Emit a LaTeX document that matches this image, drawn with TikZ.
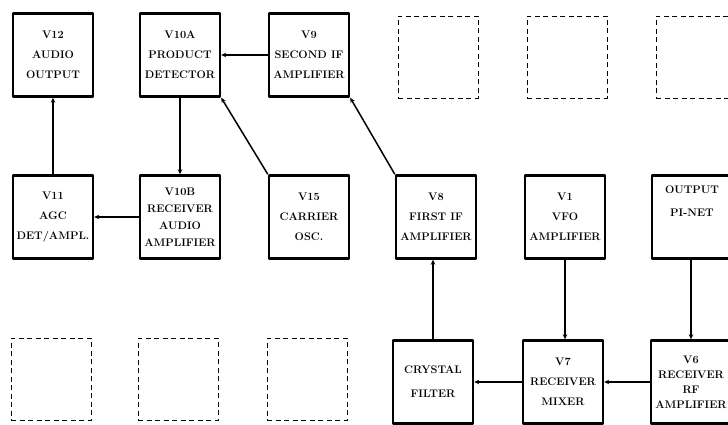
\documentclass[tikz,border=0pt]{standalone}
\usetikzlibrary{arrows.meta}
\begin{document}
\begin{tikzpicture}[x=1pt,y=-1pt,>={Stealth[length=5pt,width=4.5pt]},line join=round,
	font=\fontsize{11}{20}\selectfont\bfseries,
	blk/.style={draw,line width=2.4pt,minimum width=80pt,minimum height=83pt,align=center,inner sep=0pt},
	spare/.style={draw,dashed,line width=0.9pt,dash pattern=on 5pt off 3.5pt,minimum width=80pt,minimum height=82pt},
	sig/.style={->,line width=1.5pt}]
	\def\ca{53} \def\cb{180} \def\cc{309} \def\cd{436} \def\ce{565} \def\cf{692} % columns
	\def\ra{55} \def\rb{217} \def\rc{382} % rows
	\useasboundingbox (0,0) rectangle (728,425);
	\clip (0,0) rectangle (728,425);
	% top row
	\node[blk] (v12) at (\ca,\ra) {V12\\AUDIO\\OUTPUT};
	\node[blk] (v10a) at (\cb,\ra) {V10A\\PRODUCT\\DETECTOR};
	\node[blk] (v9) at (\cc,\ra) {V9\\SECOND IF\\AMPLIFIER};
	\foreach \i/\xx in {1/438,2/567,3/696} \node[spare] (sa\i) at (\xx,57) {};
	% middle row
	\node[blk] (v11) at (\ca,\rb) {V11\\AGC\\DET/AMPL.};
	\node[blk,font=\fontsize{11}{17}\selectfont\bfseries] (v10b) at (\cb,\rb) {V10B\\RECEIVER\\AUDIO\\AMPLIFIER};
	\node[blk] (v15) at (\cc,\rb) {V15\\CARRIER\\OSC.};
	\node[blk] (v8) at (\cd,\rb) {V8\\FIRST IF\\AMPLIFIER};
	\node[blk] (v1) at (\ce,\rb) {V1\\VFO\\AMPLIFIER};
	\node[blk] (pinet) at (\cf,\rb) {OUTPUT\\[3pt]PI-NET\\[12pt]};
	% bottom row
	\foreach \i/\xx in {1/51,2/178,3/307} \node[spare] (sc\i) at (\xx,379) {};
	\node[blk] (xtal) at (\cd-3,\rc) {CRYSTAL\\[4pt]FILTER};
	\node[blk] (v7) at (\ce-2,\rc) {V7\\RECEIVER\\MIXER};
	\node[blk,font=\fontsize{11}{15}\selectfont\bfseries] (v6) at (\cf-1,\rc) {V6\\RECEIVER\\RF\\AMPLIFIER};
	% signal path
	\draw[sig] (pinet.south-|v6) -- (v6);
	\draw[sig] (v6) -- (v7);
	\draw[sig] (v1) -- (v7.north-|v1);
	\draw[sig] (v7) -- (xtal);
	\draw[sig] (xtal) -- (v8.south-|xtal);
	\draw[sig] (v8.north west) -- (v9.south east);
	\draw[sig] (v9) -- (v10a);
	\draw[sig] (v15.north west) -- (v10a.south east);
	\draw[sig] (v10a) -- (v10b);
	\draw[sig] (v10b) -- (v11);
	\draw[sig] (v11) -- (v12);
\end{tikzpicture}
\end{document}
